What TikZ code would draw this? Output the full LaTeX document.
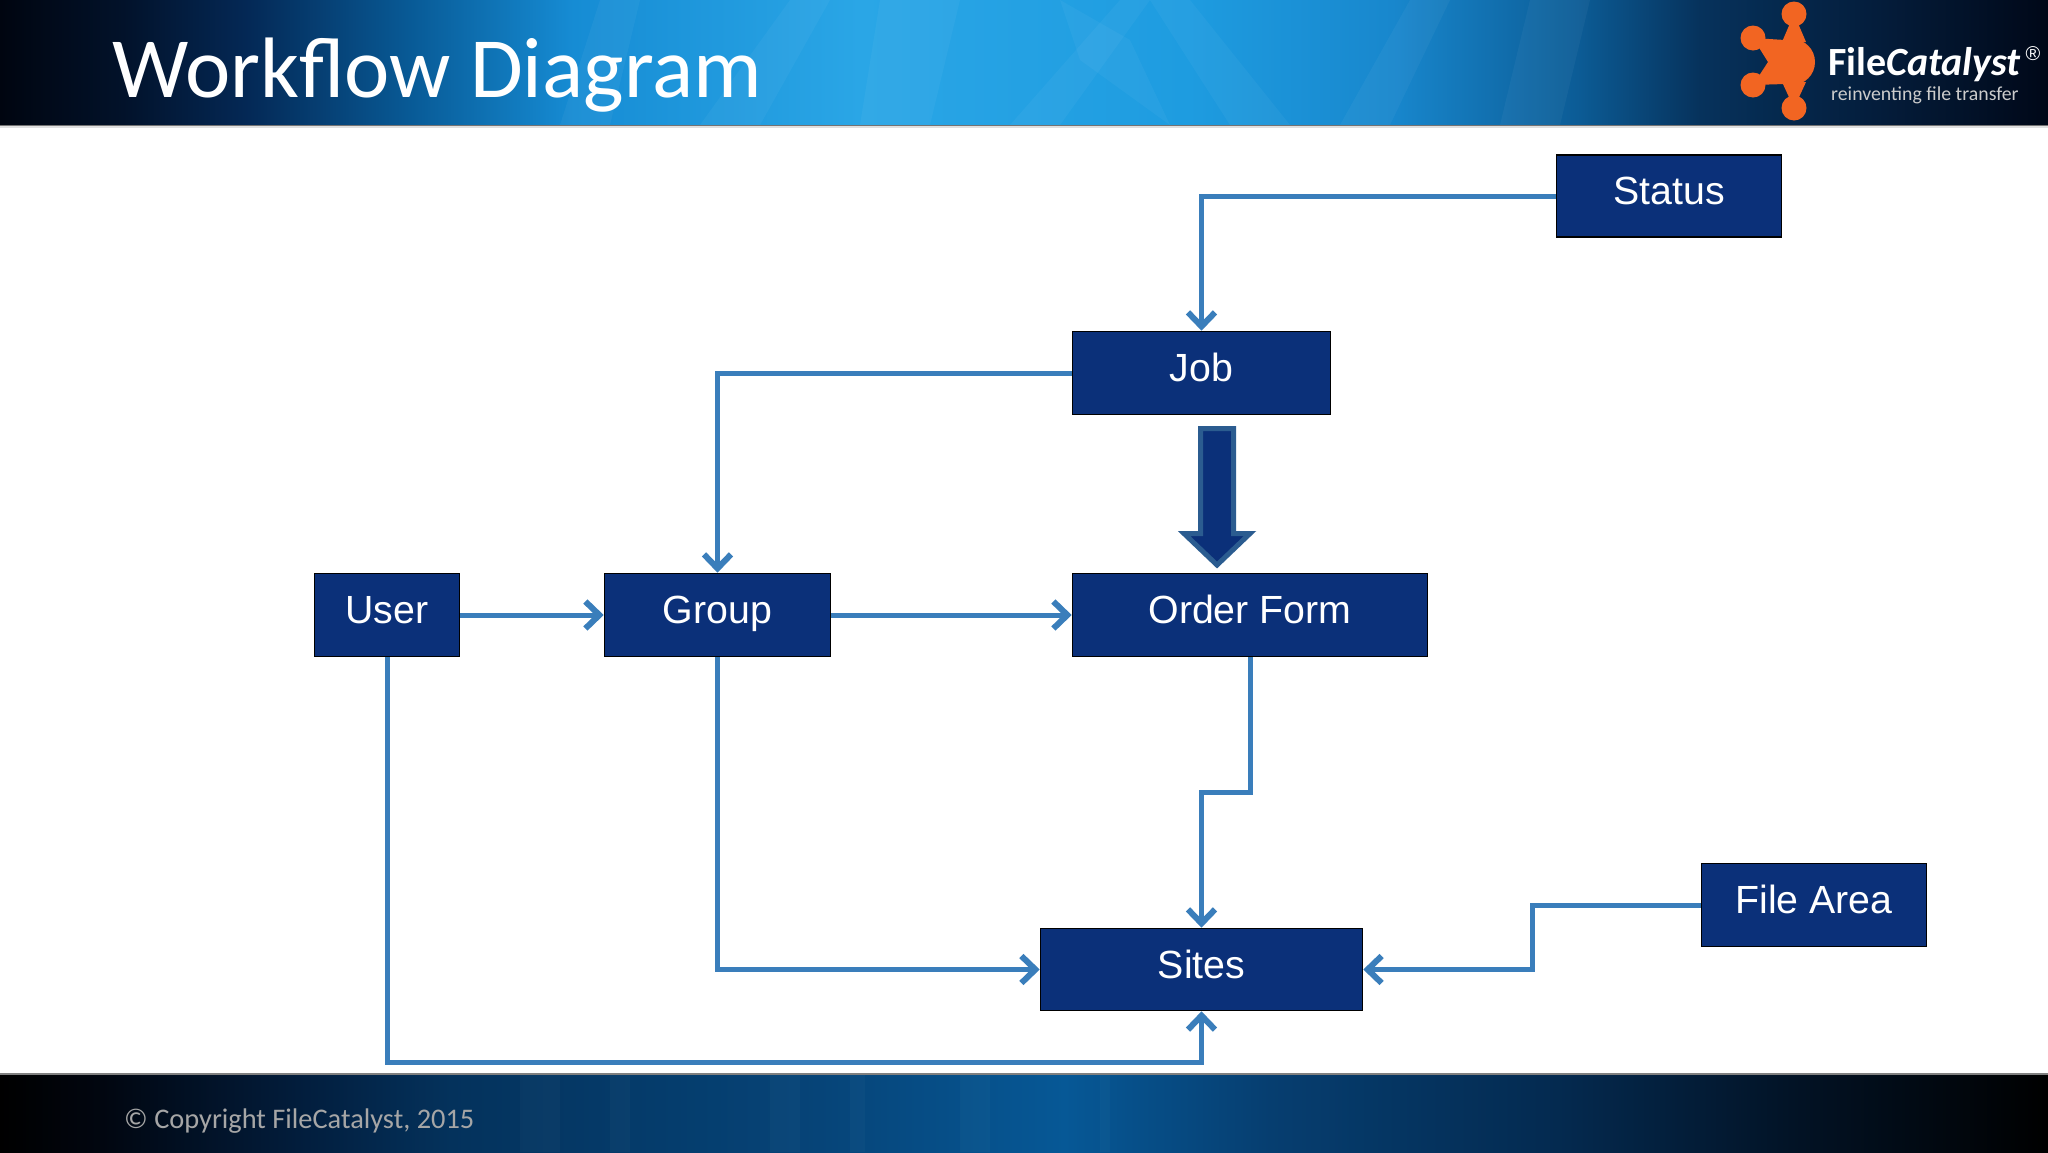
\documentclass[tikz,border=0pt]{standalone}
\usepackage{fontspec}
\setmainfont{Liberation Sans}
\newfontfamily\slidefont{Carlito}
\usetikzlibrary{arrows.meta}
\definecolor{boxblue}{HTML}{0B3079}
\definecolor{linkblue}{HTML}{3A7EBB}
\definecolor{bigedge}{HTML}{2B5C90}
\definecolor{logoorange}{HTML}{F26522}
\definecolor{ha}{HTML}{000510}
\definecolor{hb}{HTML}{02122A}
\definecolor{hc}{HTML}{042855}
\definecolor{hd}{HTML}{085A96}
\definecolor{he}{HTML}{168CD4}
\definecolor{hf}{HTML}{2AA6E6}
\definecolor{hg}{HTML}{1E9CE0}
\definecolor{hh}{HTML}{1887CD}
\definecolor{hi}{HTML}{0C5C96}
\definecolor{hj}{HTML}{06325C}
\definecolor{hk}{HTML}{041C3A}
\definecolor{hl}{HTML}{000818}
\definecolor{fa}{HTML}{000000}
\definecolor{fb}{HTML}{010610}
\definecolor{fc}{HTML}{021E3E}
\definecolor{fd}{HTML}{04325C}
\definecolor{fe}{HTML}{064478}
\definecolor{ff}{HTML}{065896}
\definecolor{fg}{HTML}{063E70}
\definecolor{fh}{HTML}{042A50}
\definecolor{fi}{HTML}{021224}
% TikZ fits a path to the central 50bp of a shading, so positions run 25..75
\pgfdeclarehorizontalshading{headband}{100bp}{
  color(0bp)=(ha);
  color(25bp)=(ha);
  color(28bp)=(hb);
  color(31bp)=(hc);
  color(35bp)=(hd);
  color(39bp)=(he);
  color(46bp)=(hf);
  color(54bp)=(hg);
  color(59bp)=(hh);
  color(63.5bp)=(hi);
  color(66.5bp)=(hj);
  color(71bp)=(hk);
  color(75bp)=(hl);
  color(100bp)=(hl)}
\pgfdeclarehorizontalshading{footband}{100bp}{
  color(0bp)=(fa);
  color(25bp)=(fa);
  color(27.5bp)=(fb);
  color(32.5bp)=(fc);
  color(36bp)=(fd);
  color(45bp)=(fe);
  color(51bp)=(ff);
  color(56bp)=(fg);
  color(63bp)=(fh);
  color(69bp)=(fi);
  color(75bp)=(fa);
  color(100bp)=(fa)}
\tikzset{
  x=1pt,y=-1pt,
  flowbox/.style={draw=black,line width=1.6pt,fill=boxblue,text=white,inner sep=0pt,
    font=\fontsize{39.3}{39.3}\selectfont,anchor=center},
  link/.style={draw=linkblue,line width=5pt,line join=miter,
    -{Straight Barb[length=14pt,width=27pt,line width=6pt]}},
  streak/.style={fill=white,opacity=0.04,draw=none},
  softstreak/.style={fill=white,opacity=0.025,draw=none},
  ball/.style={circle,fill=logoorange,draw=none,inner sep=0pt},
  prong/.style={draw=logoorange,line width=8pt,line cap=round}
}
\newcommand{\boxtext}[1]{\raisebox{11pt}{#1}}
\begin{document}
\begin{tikzpicture}
\useasboundingbox (0,0) rectangle (2048,1152);
\fill[white] (0,0) rectangle (2048,1152);
% header band
\shade[shading=headband] (0,0) rectangle (2048,125);
\begin{scope}
\clip (0,0) rectangle (2048,125);
\fill[streak] (700,125) -- (790,0) -- (830,0) -- (760,125) -- cycle;
\fill[streak] (860,125) -- (880,0) -- (960,0) -- (930,125) -- cycle;
\fill[streak] (1010,125) -- (1120,0) -- (1150,0) -- (1060,125) -- cycle;
\fill[streak] (1150,0) -- (1230,125) -- (1290,125) -- (1190,0) -- cycle;
\fill[streak] (1340,125) -- (1410,0) -- (1450,0) -- (1390,125) -- cycle;
\fill[streak] (1060,0) -- (1080,60) -- (1170,125) -- (1130,40) -- cycle;
\fill[streak] (560,125) -- (600,0) -- (640,0) -- (610,125) -- cycle;
\fill[streak] (1500,125) -- (1530,0) -- (1590,0) -- (1560,125) -- cycle;
\end{scope}
\fill[black!55] (0,125) rectangle (2048,126);
\fill[black!12] (0,126) rectangle (2048,128);
% footer band
\shade[shading=footband] (0,1074) rectangle (2048,1152);
\begin{scope}
\clip (0,1074) rectangle (2048,1152);
\fill[softstreak] (520,1074) rectangle (560,1152);
\fill[softstreak] (610,1074) rectangle (630,1152);
\fill[softstreak] (770,1074) rectangle (800,1152);
\fill[softstreak] (850,1074) rectangle (865,1152);
\fill[softstreak] (960,1074) rectangle (990,1152);
\fill[softstreak] (1100,1074) rectangle (1110,1152);
\end{scope}
\fill[black!50] (0,1073) rectangle (2048,1075);
% title and footer text
\node[anchor=base west,inner sep=0pt,text=white,font=\slidefont\fontsize{85.8}{85.8}\selectfont] (title) at (112,97) {Workflow Diagram};
\node[anchor=base west,inner sep=0pt,text=black!35,font=\slidefont\fontsize{28.4}{28.4}\selectfont] (copyright) at (124,1128) {© Copyright FileCatalyst, 2015};
% logo
\coordinate (hub) at (1792,62);
\draw[prong] (hub) -- (1794,14);
\draw[prong] (hub) -- (1753,38);
\draw[prong] (hub) -- (1753,85);
\draw[prong] (hub) -- (1794,108);
\fill[logoorange] (1753,38) -- (1785,40) -- (1772,62) -- (1785,84) -- (1753,85) -- (1768,62) -- cycle;
\fill[logoorange] (1794,14) -- (1806,42) -- (1782,42) -- cycle;
\fill[logoorange] (1794,108) -- (1806,82) -- (1782,82) -- cycle;
\node[ball,minimum size=46pt] (hubdot) at (hub) {};
\node[ball,minimum size=25pt] (balla) at (1794,14) {};
\node[ball,minimum size=25pt] (ballb) at (1753,38) {};
\node[ball,minimum size=25pt] (ballc) at (1753,85) {};
\node[ball,minimum size=25pt] (balld) at (1794,108) {};
\node[anchor=base west,inner sep=0pt,text=white,font=\slidefont\bfseries\fontsize{40}{40}\selectfont] (brand) at (1828,75) {File\textit{Catalyst}};
\node[anchor=center,inner sep=0pt,text=white,font=\fontsize{20}{20}\selectfont] (reg) at (2033,54) {®};
\node[anchor=base west,inner sep=0pt,text=black!20,font=\slidefont\fontsize{19.8}{19.8}\selectfont] (tagline) at (1831,100) {reinventing file transfer};
% boxes
\node[flowbox,minimum width=225pt,minimum height=82pt] (status) at (1669,196) {\boxtext{Status}};
\node[flowbox,minimum width=258pt,minimum height=83pt] (job) at (1201.5,373) {\boxtext{Job}};
\node[flowbox,minimum width=145pt,minimum height=83pt] (user) at (387,615) {\boxtext{User}};
\node[flowbox,minimum width=226pt,minimum height=83pt] (group) at (717.5,615) {\boxtext{Group}};
\node[flowbox,minimum width=355pt,minimum height=83pt] (order) at (1250,615) {\boxtext{Order Form}};
\node[flowbox,minimum width=322pt,minimum height=82pt] (sites) at (1201.5,969.5) {\boxtext{Sites}};
\node[flowbox,minimum width=225pt,minimum height=83pt] (filearea) at (1814,905) {\boxtext{File Area}};
% routing helpers
\coordinate (midorder) at (1250,792);
\coordinate (lowlane) at (800,1062);
\coordinate (filebend) at (1532,940);
% connectors
\draw[link] (status.west) -| (job.north);
\draw[link] (job.west) -| (group.north);
\draw[link] (user.east) -- (group.west);
\draw[link] (group.east) -- (order.west);
\draw[link] (order.south) -- (order.south |- midorder) -- (sites.north |- midorder) -- (sites.north);
\draw[link] (group.south) |- (sites.west);
\draw[link] (user.south) -- (user.south |- lowlane) -- (sites.south |- lowlane) -- (sites.south);
\draw[link] (filearea.west) -- (filearea.west -| filebend) -- (filebend |- sites.east) -- (sites.east);
% block arrow
\draw[draw=bigedge,fill=boxblue,line width=5pt,line join=miter,miter limit=4]
  (1200.5,428.5) -- (1233.5,428.5) -- (1233.5,533.5) -- (1250,533.5) -- (1217,565) -- (1184,533.5) -- (1200.5,533.5) -- cycle;
\end{tikzpicture}
\end{document}
